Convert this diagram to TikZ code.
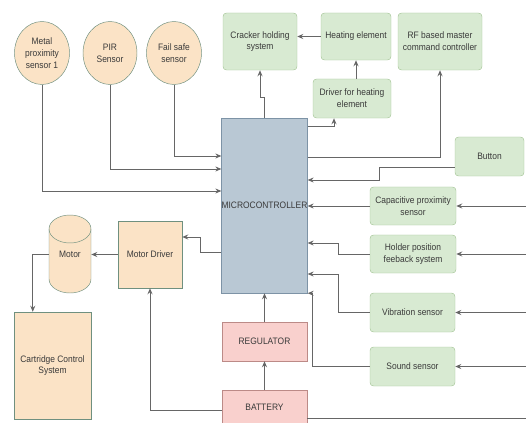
\documentclass[tikz,border=0pt]{standalone}
\usepackage{fontspec}
\setmainfont{Liberation Sans}[FakeStretch=0.9]
\usetikzlibrary{calc,positioning,arrows.meta,shapes.geometric}
\definecolor{beigefill}{HTML}{FBE3C6}
\definecolor{beigeline}{HTML}{6F907F}
\definecolor{greenfill}{HTML}{D8EAD2}
\definecolor{greenline}{HTML}{A6C598}
\definecolor{mcufill}{HTML}{B9C8D4}
\definecolor{mculine}{HTML}{7D93A6}
\definecolor{pinkfill}{HTML}{F9D0CD}
\definecolor{pinkline}{HTML}{BC8A87}
\definecolor{wiregray}{HTML}{666666}
\definecolor{inkgray}{HTML}{3A3A3A}
\newcommand\diagfont{\fontsize{8}{10}\selectfont}
\tikzset{
  sensor/.style={ellipse,draw=beigeline,fill=beigefill,align=center,font=\diagfont,
                 text=inkgray,inner sep=0pt,minimum width=1.65cm,minimum height=1.89cm},
  gbox/.style={draw=greenline,fill=greenfill,rounded corners=3pt,align=center,
               font=\diagfont,text=inkgray,inner sep=1pt},
  obox/.style={draw=beigeline,fill=beigefill,align=center,font=\diagfont,text=inkgray,inner sep=1pt},
  pbox/.style={draw=pinkline,fill=pinkfill,align=center,font=\diagfont,text=inkgray,inner sep=1pt,
               minimum width=2.55cm},
  arr/.style={-{Stealth[length=1.8mm,width=1.5mm]},line width=0.8pt,wiregray},
  wire/.style={line width=0.8pt,wiregray}
}

\begin{document}
\begin{tikzpicture}[x=0.03cm,y=-0.03cm]
  \useasboundingbox (0,0) rectangle (526,423);
  \coordinate (rim) at (526,0);
  % sensors on top left
  \node[sensor] (metal) at (42,53) {Metal\\proximity\\sensor 1};
  \node[sensor,minimum width=1.62cm] (pir) at (110,53) {PIR\\Sensor};
  \node[sensor] (failsafe) at (174,53) {Fail safe\\sensor};
  % controller and power
  \node[draw=mculine,fill=mcufill,font=\diagfont,text=inkgray,inner sep=0pt,
        minimum width=2.55cm,minimum height=5.25cm] (micro) at (264.5,205.5) {MICROCONTROLLER};
  \node[pbox,minimum height=1.17cm] (regulator) at (264.5,341.5) {REGULATOR};
  \node[pbox,minimum height=1.05cm] (battery) at (264.5,407.5) {BATTERY};
  % top row
  \node[gbox,minimum width=2.22cm,minimum height=1.71cm] (cracker) at (260,41.5) {Cracker holding\\system};
  \node[gbox,minimum width=2.1cm,minimum height=1.41cm] (heating) at (356,36.5) {Heating element};
  \node[gbox,minimum width=2.34cm,minimum height=1.17cm] (driverh) at (352,98.5) {Driver for heating\\element};
  \node[gbox,minimum width=2.52cm,minimum height=1.71cm] (rf) at (440,41.5) {RF based master\\command controller};
  % right column
  \node[gbox,minimum width=2.07cm,minimum height=1.17cm] (button) at (489.5,156.5) {Button};
  \node[gbox,minimum width=2.58cm,minimum height=1.14cm] (capsens) at (413,206) {Capacitive proximity\\sensor};
  \node[gbox,minimum width=2.58cm,minimum height=1.14cm] (holder) at (413,254) {Holder position\\feeback system};
  \node[gbox,minimum width=2.55cm,minimum height=1.17cm] (vibration) at (412.5,312.5) {Vibration sensor};
  \node[gbox,minimum width=2.55cm,minimum height=1.17cm] (sound) at (412.5,366.5) {Sound sensor};
  % motor side
  \node[obox,minimum width=1.92cm,minimum height=2.01cm] (mdrv) at (150,254.5) {Motor Driver};
  \fill[beigefill] (49,229) -- (49,279) arc[start angle=180,end angle=360,x radius=0.63cm,y radius=0.42cm]
    -- (91,229) arc[start angle=0,end angle=180,x radius=0.63cm,y radius=0.42cm] -- cycle;
  \draw[beigeline] (49,229) -- (49,279) arc[start angle=180,end angle=360,x radius=0.63cm,y radius=0.42cm]
    -- (91,229);
  \draw[beigeline] (70,229) ellipse[x radius=0.63cm,y radius=0.42cm];
  \node[font=\diagfont,text=inkgray,inner sep=0pt,minimum width=1.26cm,minimum height=2.34cm] (motor) at (70,254)
    {\raisebox{-0.18cm}{Motor}};
  \node[obox,minimum width=2.31cm,minimum height=3.21cm] (cart) at (52.5,365.5) {Cartridge Control\\System};

  % sensor inputs
  \draw[arr] (metal.south) |- ([yshift=0.435cm]micro.west);
  \draw[arr] (pir.south) |- ([yshift=1.095cm]micro.west);
  \draw[arr] (failsafe.south) |- ([yshift=1.485cm]micro.west);
  % outputs on top
  \draw[arr] (micro.north) -- ++(0,-20) -| (cracker.south);
  \draw[arr] ([yshift=2.385cm]micro.east) -| ([xshift=-0.54cm]driverh.south);
  \draw[arr] (heating.south |- driverh.north) -- (heating.south);
  \draw[arr] (heating.west) -- (heating.west -| cracker.east);
  \draw[arr] ([yshift=1.455cm]micro.east) -| (rf.south);
  % right side inputs
  \draw[arr] ([yshift=-0.315cm]button.west) -- ++(-75,0) |- ([yshift=0.765cm]micro.east);
  \draw[arr] (capsens.west) -- (capsens.west -| micro.east);
  \draw[arr] (holder.west) -- ++(-31,0) |- ([yshift=-1.125cm]micro.east);
  \draw[arr] (vibration.west) -- ++(-31,0) |- ([yshift=-2.055cm]micro.east);
  \draw[arr] (sound.west) -- ++(-57,0) |- (micro.south east);
  \draw[arr] (capsens.east -| rim) -- (capsens.east);
  \draw[arr] (holder.east -| rim) -- (holder.east);
  \draw[arr] (vibration.east -| rim) -- (vibration.east);
  \draw[arr] (sound.east -| rim) -- (sound.east);
  % power
  \draw[arr] (battery.north) -- (regulator.south);
  \draw[arr] (regulator.north) -- (micro.south);
  \draw[wire] ([yshift=-0.315cm]battery.east) -- ([yshift=-0.315cm]battery.east -| rim);
  \draw[arr] ([yshift=-0.075cm]battery.west) -| (mdrv.south);
  % motor chain
  \draw[arr] ([yshift=-1.395cm]micro.west) -- ++(-21,0) |- ([yshift=0.525cm]mdrv.east);
  \draw[arr] (mdrv.west) -- (mdrv.west -| motor.east);
  \draw[arr] (motor.west) -- ++(-16,0) coordinate (mbend) -- (mbend |- cart.north);
\end{tikzpicture}
\end{document}
